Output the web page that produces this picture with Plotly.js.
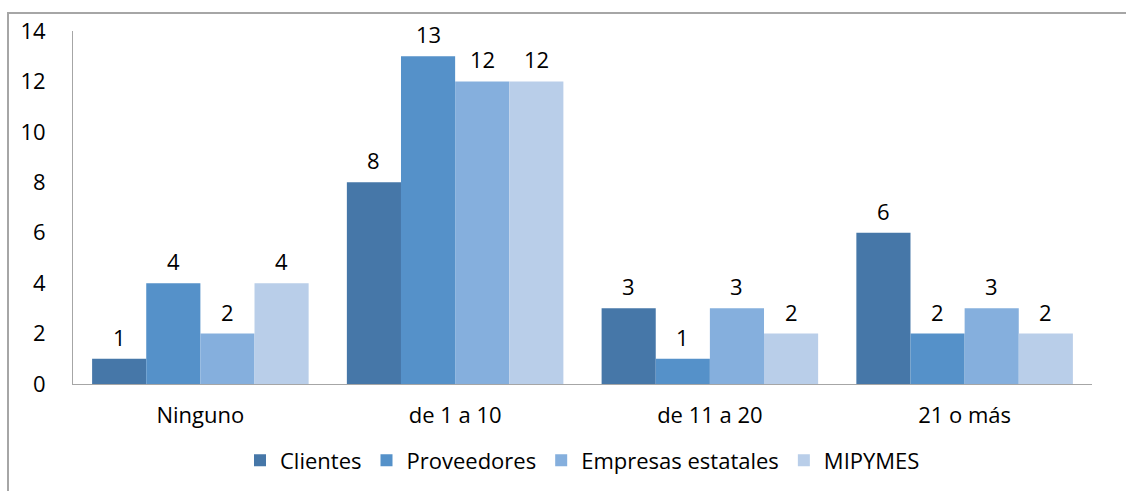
<!DOCTYPE html>
<html><head><meta charset="utf-8">
<script src="https://cdn.plot.ly/plotly-3.0.1.min.js"></script>
<style>html,body{margin:0;padding:0;background:#fff}</style>
</head><body><div id="chart" style="width:1126px;height:491px"></div>
<script>
const categories = ["Ninguno", "de 1 a 10", "de 11 a 20", "21 o más"];
const seriesNames = ["Clientes", "Proveedores", "Empresas estatales", "MIPYMES"];
const clientes = [1, 8, 3, 6];
const proveedores = [4, 13, 1, 2];
const empresasEstatales = [2, 12, 3, 3];
const mipymes = [4, 12, 2, 2];
const colors = ["#4677a8", "#5591c9", "#85afdd", "#b9cee9"];
const values = [clientes, proveedores, empresasEstatales, mipymes];

const font = "'Open Sans', Lato, sans-serif";
const FS = 22;
const L = 73, R = 1092, T = 31, B = 384;
const pw = R - L, ph = B - T;
const bargap = 0.15;
const barPx = pw / categories.length * (1 - bargap) / values.length;

const traces = values.map((v, i) => ({
  type: "bar", name: seriesNames[i], x: categories, y: v,
  marker: {color: colors[i], line: {width: 0}}
}));
const annotations = [];
values.forEach((v, i) => v.forEach((val, j) => annotations.push({
  xref: "x", yref: "y", x: categories[j], y: val, text: String(val),
  showarrow: false, yanchor: "bottom", yshift: 5,
  xshift: (i - (values.length - 1) / 2) * barPx,
  font: {family: font, size: FS, color: "#000"}
})));
const layout = {
  width: 1126, height: 491,
  margin: {l: L, r: 1126 - R, t: T, b: 491 - B, autoexpand: false},
  paper_bgcolor: "#fff", plot_bgcolor: "#fff",
  barmode: "group", bargap: bargap, bargroupgap: 0,
  font: {family: font, size: FS, color: "#000"},
  showlegend: true,
  legend: {orientation: "h", x: 0.5, xanchor: "center", y: -0.157, yanchor: "top",
           font: {family: font, size: FS, color: "#000"}, itemwidth: 20, traceorder: "normal"},
  xaxis: {showgrid: false, showline: true, linecolor: "#a6a6a6", linewidth: 1, automargin: false,
          ticks: "", tickfont: {family: font, size: FS}, zeroline: false, ticklabelstandoff: 12},
  yaxis: {range: [0, 14], dtick: 2, showgrid: false, showline: true, linecolor: "#a6a6a6",
          linewidth: 1, ticks: "", tickfont: {family: font, size: FS}, zeroline: false,
          ticklabelstandoff: 22, automargin: false},
  annotations: annotations,
  shapes: [{type: "rect", xref: "paper", yref: "paper",
            x0: (8 - L) / pw, x1: (1140 - L) / pw, y0: (B - 520) / ph, y1: 1 + (T - 13) / ph,
            line: {color: "#a6a6a6", width: 2}, fillcolor: "rgba(0,0,0,0)", layer: "below"}]
};
Plotly.newPlot("chart", traces, layout, {displayModeBar: false, staticPlot: true});
</script></body></html>
